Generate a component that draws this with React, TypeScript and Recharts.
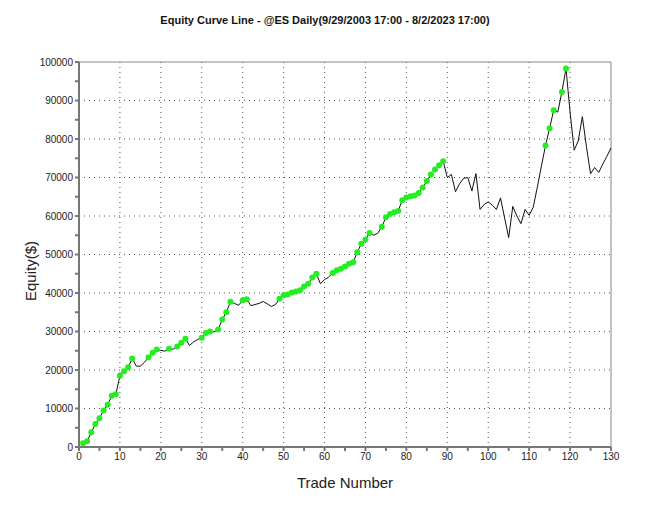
import { LineChart, Line, XAxis, YAxis, CartesianGrid, ReferenceLine } from "recharts"

document.body.style.margin = "0"

const TITLE = "Equity Curve Line - @ES Daily(9/29/2003 17:00 - 8/2/2023 17:00)"

// equity after each closed trade
const equity = [
  1000, 1500, 3800, 6000, 7500, 9500, 11000, 13300, 13700, 18500,
  19700, 20700, 23000, 21000, 21000, 22000, 23300, 24500, 25300, 25100,
  24900, 25500, 25400, 26100, 27100, 28100, 26400, 27300, 27900, 28400,
  29600, 30000, 29900, 30500, 33100, 35000, 37700, 37300, 36800, 38100,
  38400, 36700, 37000, 37300, 37800, 37200, 36500, 37000, 38500, 39400,
  39600, 40100, 40400, 40700, 41700, 42400, 44000, 45000, 42400, 43500,
  44100, 45200, 45900, 46300, 46900, 47600, 48000, 50600, 52800, 53900,
  55600, 55000, 55500, 57200, 59700, 60500, 61000, 61300, 64100, 64800,
  65100, 65300, 66000, 67400, 69100, 70800, 72100, 73200, 74200, 70000,
  70800, 66300, 68400, 69800, 70000, 66500, 71000, 61700, 63000, 63700,
  62800, 61700, 64700, 59500, 54400, 62500, 60000, 58000, 61700, 60200,
  62300, 67500, 73000, 78300, 82800, 87500, 87000, 92200, 98300, 87000,
  77100, 79500, 85800, 78000, 71000, 72600, 71300, 73500, 75500, 77700,
]

const xTicks = [0, 5, 10, 15, 20, 25, 30, 35, 40, 45, 50, 55, 60, 65, 70, 75, 80, 85, 90, 95, 100, 105, 110, 115, 120, 125, 130]
const yTicks = [0, 5000, 10000, 15000, 20000, 25000, 30000, 35000, 40000, 45000, 50000, 55000, 60000, 65000, 70000, 75000, 80000, 85000, 90000, 95000, 100000]
const xGrid = [10, 20, 30, 40, 50, 60, 70, 80, 90, 100, 110, 120]
const yGrid = [10000, 20000, 30000, 40000, 50000, 60000, 70000, 80000, 90000]

// mark each trade that sets a new equity high
let peak = -Infinity
const data = equity.map((v, i) => {
  const high = v > peak
  if (high) peak = v
  return { trade: i + 1, equity: v, high }
})

const font = "'Liberation Sans', Arial, sans-serif"

function HighDot(props: any) {
  const { cx, cy, payload, index } = props
  if (!payload?.high) return <g key={index} />
  return <circle key={index} cx={cx} cy={cy} r={3} fill="#22ee22" stroke="none" />
}

export default function App() {
  return (
    <div style={{ width: 651, height: 505, background: "#fff", position: "relative" }}>
      <LineChart
        width={651}
        height={505}
        data={data}
        margin={{ top: 62, right: 40, bottom: 28, left: 0 }}
      >
        <text x={325} y={24} textAnchor="middle" fontFamily={font} fontSize={11} fontWeight="bold" fill="#111">
          {TITLE}
        </text>
        <CartesianGrid
          stroke="#555"
          strokeDasharray="1 4"
          horizontalValues={yGrid}
          verticalValues={xGrid}
        />
        <XAxis
          dataKey="trade"
          type="number"
          domain={[0, 130]}
          ticks={xTicks}
          interval={0}
          height={30}
          tickSize={4}
          stroke="#777"
          strokeWidth={2}
          tick={{ fill: "#222", fontSize: 10, fontFamily: font }}
          tickFormatter={(v: number) => (v % 10 === 0 ? String(v) : "")}
          label={{
            content: () => (
              <text x={345} y={488} textAnchor="middle" fontFamily={font} fontSize={15} fill="#222">
                Trade Number
              </text>
            ),
          }}
        />
        <YAxis
          type="number"
          domain={[0, 100000]}
          ticks={yTicks}
          interval={0}
          width={79}
          tickSize={4}
          stroke="#777"
          strokeWidth={2}
          tick={{ fill: "#222", fontSize: 10, fontFamily: font }}
          tickFormatter={(v: number) => (v % 10000 === 0 ? String(v) : "")}
          label={{
            content: () => (
              <text x={36} y={271} transform="rotate(-90 36 271)" textAnchor="middle" fontFamily={font} fontSize={15} fill="#222">
                Equity($)
              </text>
            ),
          }}
        />
        <ReferenceLine y={100000} stroke="#888" strokeWidth={1} />
        <ReferenceLine x={130} stroke="#888" strokeWidth={1} />
        <Line
          type="linear"
          dataKey="equity"
          stroke="#111"
          strokeWidth={1}
          dot={HighDot}
          activeDot={false}
          isAnimationActive={false}
        />
      </LineChart>
    </div>
  )
}
